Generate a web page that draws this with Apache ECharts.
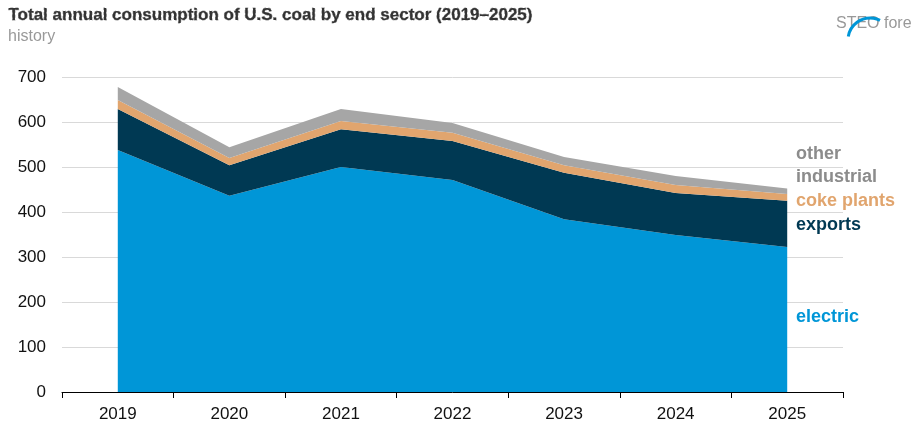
<!DOCTYPE html>
<html><head><meta charset="utf-8">
<script src="https://cdn.jsdelivr.net/npm/echarts@6/dist/echarts.min.js"></script>
<style>html,body{margin:0;padding:0;background:#fff}#c{width:911px;height:423px}</style>
</head><body><div id="c"></div>
<script>
const years = ['2019', '2020', '2021', '2022', '2023', '2024', '2025'];
const electric = [538, 436, 500, 471, 384, 349, 322];
const exportsT = [91, 68, 84, 87, 103, 93, 103];
const cokePlants = [20, 16, 18, 18, 17, 18, 15];
const otherIndustrial = [29, 24, 27, 22, 18, 20, 12];
const yTicks = [0, 100, 200, 300, 400, 500, 600, 700];

const chart = echarts.init(document.getElementById('c'));
const font = 'Arial, "Liberation Sans", sans-serif';
const mk = (name, data, color) => ({
  name, type: 'line', stack: 'total', data, symbol: 'none',
  lineStyle: { width: 0 }, areaStyle: { color, opacity: 1 }, itemStyle: { color }
});
chart.setOption({
  animation: false,
  textStyle: { fontFamily: font },
  grid: { left: 62, right: 68, top: 77, bottom: 31 },
  xAxis: {
    type: 'category', data: years, boundaryGap: true,
    axisLine: { lineStyle: { color: '#000', width: 1 } },
    axisTick: { show: true, lineStyle: { color: '#000' }, length: 6 },
    axisLabel: { color: '#111', fontSize: 17, margin: 14 }
  },
  yAxis: {
    type: 'value', min: yTicks[0], max: yTicks[yTicks.length - 1], interval: 100,
    axisLine: { show: false }, axisTick: { show: false },
    axisLabel: { color: '#111', fontSize: 17, margin: 16 },
    splitLine: { lineStyle: { color: '#d9d9d9' } }
  },
  series: [
    mk('electric', electric, '#0096d7'),
    mk('exports', exportsT, '#003953'),
    mk('coke plants', cokePlants, '#e1a56e'),
    mk('other industrial', otherIndustrial, '#a6a6a6')
  ],
  graphic: [
    { type: 'text', left: 8, top: 6, style: { text: 'Total annual consumption of U.S. coal by end sector (2019–2025)', font: 'bold 17px ' + font, fill: '#333' } },
    { type: 'text', left: 8, top: 29, style: { text: 'million short tons', font: '17px ' + font, fill: '#333' } },
    { type: 'text', left: 836, top: 16, style: { text: 'eia', font: 'bold 30px ' + font, fill: '#1a3b5c' } },
    { type: 'arc', shape: { cx: 870, cy: 40, r: 22, startAngle: -Math.PI * 0.95, endAngle: -Math.PI * 0.35 }, style: { stroke: '#0096d7', lineWidth: 3, fill: null } },
    { type: 'text', left: 796, top: 145, style: { text: 'other', font: 'bold 18px ' + font, fill: '#8c8c8c' } },
    { type: 'text', left: 796, top: 168, style: { text: 'industrial', font: 'bold 18px ' + font, fill: '#8c8c8c' } },
    { type: 'text', left: 796, top: 192, style: { text: 'coke plants', font: 'bold 18px ' + font, fill: '#e1a56e' } },
    { type: 'text', left: 796, top: 216, style: { text: 'exports', font: 'bold 18px ' + font, fill: '#003953' } },
    { type: 'text', left: 796, top: 308, style: { text: 'electric', font: 'bold 18px ' + font, fill: '#0096d7' } }
  ]
});
const x23 = chart.convertToPixel({ xAxisIndex: 0 }, '2023');
const x24 = chart.convertToPixel({ xAxisIndex: 0 }, '2024');
const xm = (x23 + x24) / 2;
const y0 = chart.convertToPixel({ yAxisIndex: 0 }, 0);
chart.setOption({ graphic: [
  { type: 'line', shape: { x1: xm, y1: 60, x2: xm, y2: y0 }, style: { stroke: '#999', lineDash: [3, 2], lineWidth: 1 } },
  { type: 'text', x: xm - 8, y: 60, style: { text: 'history', font: '16px ' + font, fill: '#999', align: 'right' } },
  { type: 'text', x: xm + 8, y: 60, style: { text: 'STEO forecast', font: '16px ' + font, fill: '#999', align: 'left' } }
] });
</script></body></html>
